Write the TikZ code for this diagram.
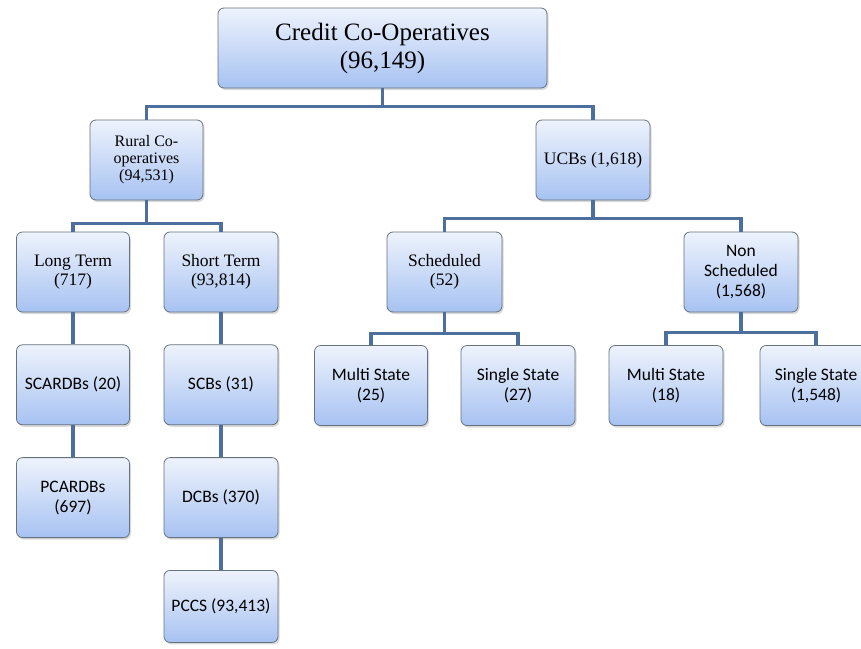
\documentclass[tikz,border=0pt]{standalone}
\usepackage{fontspec}
\setmainfont{Liberation Serif}
\newfontfamily\calfont{Carlito}
\usetikzlibrary{positioning,shadows}
\definecolor{coopline}{HTML}{4D6F9E}
\definecolor{coopedge}{HTML}{66727F}
\definecolor{cooptop}{HTML}{EEF3FC}
\definecolor{coopbot}{HTML}{A7C2F2}
\tikzset{
  unit/.style={draw=coopedge,rounded corners=6pt,align=center,line width=.8pt,
    top color=cooptop,bottom color=coopbot,minimum height=80pt,minimum width=114pt,
    inner sep=2pt,drop shadow={opacity=.3,shadow xshift=1.5pt,shadow yshift=-2pt}},
  serifunit/.style={unit,font=\fontsize{17.5}{19}\selectfont},
  sansunit/.style={unit,font=\calfont\fontsize{17.5}{20}\selectfont},
  headunit/.style={unit,minimum width=329pt,font=\fontsize{25}{28}\selectfont},
  link/.style={draw=coopline,line width=3.6pt}
}
\begin{document}
\begin{tikzpicture}[x=1pt,y=-1pt,node distance=32pt]
  \useasboundingbox (0,0) rectangle (861,648);
  \begin{scope}
  \clip (0,0) rectangle (861,648);
  \node[headunit] (credit) at (382.5,48) {Credit Co-Operatives\\(96,149)};

  \node[serifunit,minimum width=113pt,font=\fontsize{16}{17}\selectfont] (rural) at (146.5,160) {Rural Co-\\operatives\\(94,531)};
  \node[serifunit] (ucbs) at (593,160) {UCBs (1,618)};

  \node[serifunit,minimum width=113pt] (longterm) at (73,272) {Long Term\\(717)};
  \node[serifunit] (shortterm) at (221,272) {Short Term\\(93,814)};
  \node[serifunit,minimum width=115pt] (scheduled) at (444.5,272) {Scheduled\\(52)};
  \node[sansunit] (nonsched) at (741,272) {Non\\Scheduled\\(1,568)};

  % rural columns
  \node[sansunit,minimum width=113pt,below=of longterm] (scardbs) {SCARDBs (20)};
  \node[sansunit,minimum width=113pt,below=of scardbs] (pcardbs) {PCARDBs\\(697)};
  \node[sansunit,below=of shortterm] (scbs) {SCBs (31)};
  \node[sansunit,below=of scbs] (dcbs) {DCBs (370)};
  \node[sansunit,minimum height=72pt,below=of dcbs] (pccs) {PCCS (93,413)};

  % ucb leaves
  \node[sansunit,minimum width=113pt] (multisch) at (371,385.5) {Multi State\\(25)};
  \node[sansunit] (singlesch) at (518,385.5) {Single State\\(27)};
  \node[sansunit] (multinon) at (666,385.5) {Multi State\\(18)};
  \node[sansunit,minimum width=112pt] (singlenon) at (816,385.5) {Single State\\(1,548)};

  \draw[link] (credit.south) -- ++(0,18) -| (rural.north);
  \draw[link] (credit.south) -- ++(0,18) -| (ucbs.north);
  \draw[link] (rural.south) -- ++(0,23) -| (longterm.north);
  \draw[link] (rural.south) -- ++(0,23) -| (shortterm.north);
  \draw[link] (ucbs.south) -- ++(0,18) -| (scheduled.north);
  \draw[link] (ucbs.south) -- ++(0,18) -| (nonsched.north);
  \draw[link] (longterm) -- (scardbs);
  \draw[link] (scardbs) -- (pcardbs);
  \draw[link] (shortterm) -- (scbs);
  \draw[link] (scbs) -- (dcbs);
  \draw[link] (dcbs) -- (pccs);
  \draw[link] (scheduled.south) -- ++(0,21) -| (multisch.north);
  \draw[link] (scheduled.south) -- ++(0,21) -| (singlesch.north);
  \draw[link] (nonsched.south) -- ++(0,20) -| (multinon.north);
  \draw[link] (nonsched.south) -- ++(0,20) -| (singlenon.north);
  \end{scope}
\end{tikzpicture}
\end{document}
